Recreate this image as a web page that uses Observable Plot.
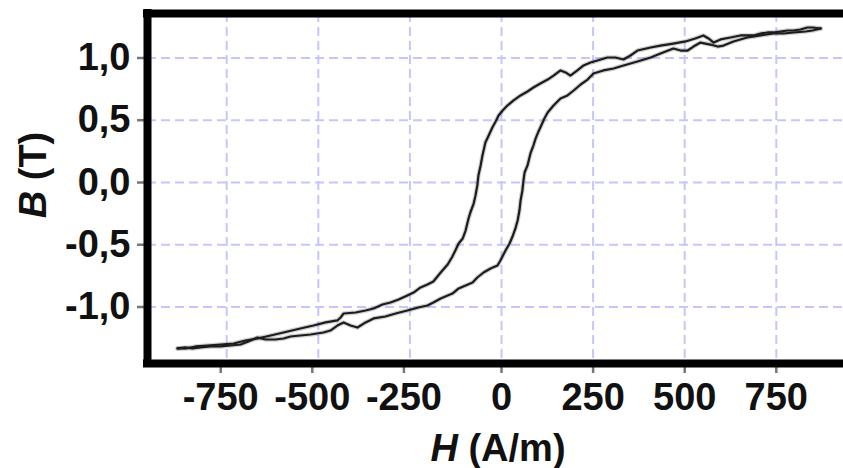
<!DOCTYPE html>
<html>
<head>
<meta charset="utf-8">
<script src="https://cdn.jsdelivr.net/npm/d3@7"></script>
<script src="https://cdn.jsdelivr.net/npm/@observablehq/plot@0.6"></script>
<style>
  html, body { margin: 0; padding: 0; background: #fff; }
  svg { display: block; }
</style>
</head>
<body>
<div id="chart"></div>
<script>
// Hysteresis loop B(H): descending (upper) branch and ascending (lower) branch
const hUpper = [871,849,835,816,797,781,761,742,726,707,688,671,652,625,598,579,565,551,529,502,469,434,407,371,352,333,311,289,262,243,224,207,188,175,161,142,126,106,87,71,52,33,16,3,-8,-16,-25,-35,-44,-52,-57,-63,-66,-71,-76,-85,-90,-98,-106,-117,-126,-134,-147,-166,-186,-202,-221,-240,-257,-281,-303,-325,-349,-371,-398,-431,-439,-448,-480,-513,-549,-595,-630,-666,-699,-731,-767,-802,-835,-862,-884];
const bUpper = [1.237,1.245,1.245,1.229,1.221,1.221,1.213,1.205,1.205,1.197,1.181,1.181,1.181,1.165,1.149,1.124,1.157,1.181,1.157,1.133,1.116,1.100,1.084,1.060,1.020,0.988,1.004,1.004,0.980,0.964,0.940,0.900,0.859,0.884,0.900,0.859,0.827,0.795,0.763,0.731,0.699,0.659,0.618,0.578,0.538,0.490,0.442,0.378,0.321,0.217,0.137,0.056,-0.024,-0.104,-0.169,-0.241,-0.289,-0.386,-0.450,-0.490,-0.546,-0.594,-0.659,-0.723,-0.795,-0.819,-0.843,-0.884,-0.908,-0.940,-0.964,-0.980,-1.012,-1.028,-1.044,-1.052,-1.084,-1.108,-1.124,-1.149,-1.173,-1.205,-1.229,-1.253,-1.269,-1.293,-1.301,-1.309,-1.317,-1.333,-1.333];
const hLower = [-884,-862,-843,-822,-794,-767,-740,-712,-691,-666,-644,-617,-595,-576,-549,-521,-486,-467,-448,-431,-412,-393,-371,-349,-317,-289,-257,-227,-202,-186,-166,-147,-134,-117,-98,-79,-66,-49,-30,-11,-3,11,22,30,38,44,49,52,57,60,63,71,79,87,93,101,106,117,126,142,161,180,197,216,235,251,278,306,333,371,407,434,469,489,508,524,543,570,590,606,633,671,707,742,770,797,830,849,871];
const bLower = [-1.333,-1.325,-1.333,-1.325,-1.317,-1.317,-1.309,-1.301,-1.277,-1.245,-1.261,-1.261,-1.253,-1.237,-1.229,-1.221,-1.205,-1.189,-1.149,-1.124,-1.149,-1.165,-1.124,-1.092,-1.076,-1.052,-1.028,-1.004,-0.988,-0.964,-0.932,-0.908,-0.892,-0.851,-0.827,-0.803,-0.763,-0.723,-0.691,-0.667,-0.627,-0.546,-0.490,-0.434,-0.369,-0.305,-0.225,-0.145,-0.064,0.016,0.080,0.137,0.233,0.297,0.353,0.410,0.442,0.514,0.562,0.618,0.675,0.699,0.739,0.787,0.827,0.875,0.900,0.916,0.940,0.972,1.004,1.036,1.076,1.060,1.060,1.092,1.124,1.108,1.092,1.100,1.133,1.165,1.181,1.197,1.197,1.205,1.213,1.221,1.237];

const xTicks = [-750,-500,-250,0,250,500,750];
const xTickLabels = ["-750","-500","-250","0","250","500","750"];
const yTicks = [-1,-0.5,0,0.5,1];
const yTickLabels = ["-1,0","-0,5","0,0","0,5","1,0"];
const xLabelItalic = "H", xLabelRest = " (A/m)";
const yLabelItalic = "B", yLabelRest = " (T)";

const xDomain = [-966.2, 933.4];
const yDomain = [-1.4538, 1.3574];

const upper = hUpper.map((h, i) => ({H: h, B: bUpper[i]}));
const lower = hLower.map((h, i) => ({H: h, B: bLower[i]}));

const gridStyle = {stroke: "#c6c6ff", strokeOpacity: 1, strokeWidth: 2, strokeDasharray: "9,5"};
const font = "'Liberation Sans', Arial, Helvetica, sans-serif";
const textColor = "#111";

const negX = xTicks.filter(d => d < 0);
const posX = xTicks.filter(d => d >= 0);
const fx = d => xTickLabels[xTicks.indexOf(d)];
const fy = d => yTickLabels[yTicks.indexOf(d)];

const chart = Plot.plot({
  width: 843,
  height: 468,
  marginLeft: 147,
  marginRight: 0,
  marginTop: 13,
  marginBottom: 105,
  x: {domain: xDomain},
  y: {domain: yDomain},
  style: {fontFamily: font, fontWeight: "bold", fontSize: "38px", background: "#fff", overflow: "visible", color: textColor},
  marks: [
    Plot.gridX(xTicks, gridStyle),
    Plot.gridY(yTicks, gridStyle),
    Plot.line(upper, {x: "H", y: "B", stroke: "#777", strokeOpacity: 0.35, strokeWidth: 4.5}),
    Plot.line(lower, {x: "H", y: "B", stroke: "#777", strokeOpacity: 0.35, strokeWidth: 4.5}),
    Plot.line(upper, {x: "H", y: "B", stroke: "#1c1c1c", strokeWidth: 2.2}),
    Plot.line(lower, {x: "H", y: "B", stroke: "#1c1c1c", strokeWidth: 2.2}),
    Plot.axisY(yTicks, {anchor: "left", tickSize: 10, tickPadding: 7, tickFormat: fy, stroke: "#777", strokeWidth: 2.5, fill: textColor, fontSize: 38, fontWeight: "bold", label: null}),
    Plot.axisX(negX, {anchor: "bottom", tickSize: 10, tickPadding: 10, tickFormat: fx, stroke: "#777", strokeWidth: 2.5, fill: textColor, fontSize: 38, fontWeight: "bold", dx: -6, label: null}),
    Plot.axisX(posX, {anchor: "bottom", tickSize: 10, tickPadding: 10, tickFormat: fx, stroke: "#777", strokeWidth: 2.5, fill: textColor, fontSize: 38, fontWeight: "bold", label: null}),
    Plot.ruleY([yDomain[1], yDomain[0]], {stroke: "#000", strokeWidth: 8, strokeLinecap: "square"}),
    Plot.ruleX([xDomain[0]], {stroke: "#000", strokeWidth: 8, strokeLinecap: "square"})
  ]
});

// Axis titles with italic symbol
const svg = d3.select(chart);
const xs = chart.scale("x");
const xt = svg.append("text")
  .attr("x", xs.apply(0) - 3)
  .attr("y", 461)
  .attr("text-anchor", "middle")
  .attr("font-family", font)
  .attr("font-weight", "bold")
  .attr("font-size", 38)
  .attr("fill", textColor);
xt.append("tspan").attr("font-style", "italic").text(xLabelItalic);
xt.append("tspan").text(xLabelRest);

const ys = chart.scale("y");
const yt = svg.append("text")
  .attr("transform", `translate(46,${(ys.apply(0) - 7)}) rotate(-90)`)
  .attr("text-anchor", "middle")
  .attr("font-family", font)
  .attr("font-weight", "bold")
  .attr("font-size", 38)
  .attr("fill", textColor);
yt.append("tspan").attr("font-style", "italic").text(yLabelItalic);
yt.append("tspan").text(yLabelRest);

document.getElementById("chart").appendChild(chart);
</script>
</body>
</html>
